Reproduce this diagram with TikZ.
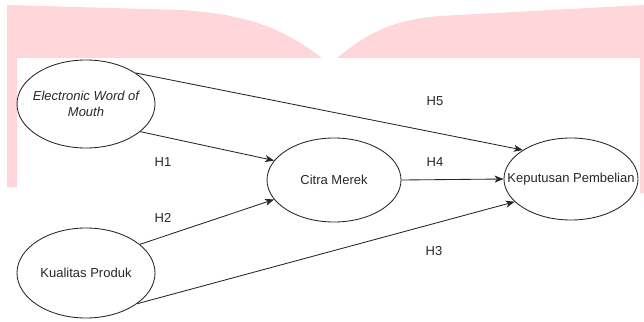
\documentclass[tikz,border=0pt]{standalone}
\usepackage{fontspec}
\setmainfont{Liberation Sans}
\usetikzlibrary{shapes.geometric,arrows.meta}
\definecolor{wmpink}{RGB}{255,214,218}
\definecolor{txt}{RGB}{40,40,40}
\tikzset{
  construct/.style={draw=black!85, line width=0.85pt, ellipse, inner sep=0pt},
  ctext/.style={font=\fontsize{13}{16}\selectfont, text=txt, align=center},
  path/.style={draw=black!85, line width=0.85pt, -{Stealth[length=9pt,width=7pt,inset=2.5pt]}},
  hyp/.style={font=\fontsize{13}{16}\selectfont, text=txt}
}
\begin{document}
\begin{tikzpicture}[x=1pt,y=-1pt]
\useasboundingbox (0,0) rectangle (644,321);
\fill[white] (0,0) rectangle (644,321);
% pink banner behind the panel
\fill[wmpink] (7,187) -- (7,5) -- (180,10) .. controls (250,14) and (285,30) .. (322,58)
  -- (17,58) -- (17,187) -- cycle;
\fill[wmpink] (337,58) .. controls (365,35) and (390,20) .. (440,16) -- (644,5)
  -- (644,193) -- (640,193) -- (640,58) -- cycle;
\fill[white] (17,58) rectangle (640,321);

% constructs (fixed-size ellipses, text centred inside)
\node[construct, minimum width=138pt, minimum height=88pt,
  label={[ctext]center:{\itshape Electronic Word of\\\itshape Mouth}}] (ewom) at (86,104) {};
\node[construct, minimum width=134pt, minimum height=84pt,
  label={[ctext]center:Citra Merek}] (cm) at (334,180) {};
\node[construct, minimum width=134pt, minimum height=82pt,
  label={[ctext]center:Keputusan Pembelian}] (kp) at (571,179) {};
\node[construct, minimum width=138pt, minimum height=90pt,
  label={[ctext]center:Kualitas Produk}] (kup) at (86,273) {};

% hypothesised paths
\draw[path] (ewom.32) -- (kp.149);
\draw[path] (ewom.-27) -- (cm.162);
\draw[path] (cm.east) -- (kp.west);
\draw[path] (kup.28) -- (cm.198);
\draw[path] (kup.-31) -- (kp.-158);

% hypothesis labels
\node[hyp] (h5) at (435,101) {H5};
\node[hyp] (h1) at (163,162) {H1};
\node[hyp] (h4) at (435,162) {H4};
\node[hyp] (h2) at (163,218) {H2};
\node[hyp] (h3) at (434,251) {H3};
\end{tikzpicture}
\end{document}
